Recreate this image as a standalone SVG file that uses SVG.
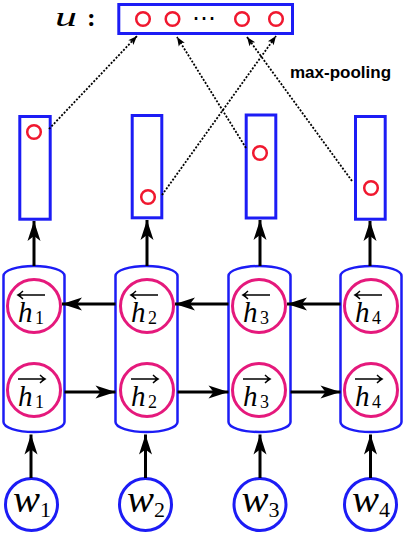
<svg xmlns="http://www.w3.org/2000/svg" width="404" height="534" viewBox="0 0 404 534">
<style>
.box{fill:#fff;stroke:#1c1cf5;stroke-width:3}
.cyl{fill:#fff;stroke:#1c1cf5;stroke-width:2.5}
.hc{fill:none;stroke:#e5197c;stroke-width:3}
.wc{fill:#fff;stroke:#1c1cf5;stroke-width:3}
.rc{fill:none;stroke:#f0182f;stroke-width:2.5}
.sol{stroke:#000;stroke-width:3;fill:none;marker-end:url(#ah)}
.dot{stroke:#000;stroke-width:1.8;stroke-dasharray:2 1.6;fill:none;marker-end:url(#dh)}
.acc{stroke:#000;stroke-width:1.4;fill:none}
.m{font-family:"Liberation Serif",serif;font-style:italic;fill:#000}
.s{font-family:"Liberation Serif",serif;fill:#000}
.wt{font-size:37px}
.ws{font-size:22px}
</style>
<defs>
<marker id="ah" markerUnits="userSpaceOnUse" markerWidth="24" markerHeight="16" viewBox="-21 -8 22 16" refX="0" refY="0" orient="auto">
<path d="M0,0 L-20,-6.5 L-15,0 L-20,6.5 Z" fill="#000"/>
</marker>
<marker id="dh" markerUnits="userSpaceOnUse" markerWidth="12" markerHeight="10" viewBox="-10 -5 11 10" refX="0" refY="0" orient="auto">
<path d="M0,0 L-9,-3.5 L-7,0 L-9,3.5 Z" fill="#000"/>
</marker>
</defs>

<g id="u-label">
<text class="m" x="55" y="25.5" font-size="28" textLength="22" lengthAdjust="spacingAndGlyphs">u</text>
<text class="s" x="87" y="25.5" font-size="26" font-weight="bold">:</text>
</g>
<g id="u">
<rect class="box" x="118.8" y="4.5" width="173.7" height="29"/>
<circle class="rc" cx="143" cy="19" r="6.8"/>
<circle class="rc" cx="172.5" cy="19" r="6.8"/>
<text x="204" y="26" font-family="DejaVu Sans,sans-serif" font-size="24" text-anchor="middle">⋯</text>
<circle class="rc" cx="242" cy="19" r="6.8"/>
<circle class="rc" cx="276" cy="19" r="6.8"/>
</g>
<g id="maxpool-label">
<text x="290" y="78" font-family="Liberation Sans,sans-serif" font-weight="bold" font-size="17">max-pooling</text>
</g>

<g id="p1"><rect class="box" x="19.8" y="116.5" width="30.4" height="102.7"/><circle class="rc" cx="34" cy="132" r="6.8"/></g>
<g id="p2"><rect class="box" x="132.2" y="115.5" width="29.6" height="102.3"/><circle class="rc" cx="148" cy="197" r="6.8"/></g>
<g id="p3"><rect class="box" x="246.2" y="115" width="29.6" height="103"/><circle class="rc" cx="260" cy="153" r="6.8"/></g>
<g id="p4"><rect class="box" x="355.5" y="116.5" width="29.7" height="102.7"/><circle class="rc" cx="371" cy="188" r="6.8"/></g>

<g id="c1">
<path class="cyl" d="M3.5,276 A30.5,10 0 0 1 64.5,276 L64.5,422 A30.5,10 0 0 1 3.5,422 Z"/>
</g>
<g id="c2">
<path class="cyl" d="M115.5,276 A31,10 0 0 1 177.5,276 L177.5,422 A31,10 0 0 1 115.5,422 Z"/>
</g>
<g id="c3">
<path class="cyl" d="M228.5,276 A31,10 0 0 1 290.5,276 L290.5,422 A31,10 0 0 1 228.5,422 Z"/>
</g>
<g id="c4">
<path class="cyl" d="M340.5,276 A30.5,10 0 0 1 401.5,276 L401.5,422 A30.5,10 0 0 1 340.5,422 Z"/>
</g>

<g id="hb1"><circle class="hc" cx="34" cy="306" r="26.5"/>
<path class="acc" d="M18,295 L45,295 M23,291 Q20,294 18,295 Q20,296 23,299"/>
<text class="m" x="18" y="322" font-size="29">h</text><text class="s" x="35" y="324" font-size="18">1</text></g>
<g id="hb2"><circle class="hc" cx="147" cy="306" r="26.5"/>
<path class="acc" d="M131,295 L158,295 M136,291 Q133,294 131,295 Q133,296 136,299"/>
<text class="m" x="131" y="322" font-size="29">h</text><text class="s" x="148" y="324" font-size="18">2</text></g>
<g id="hb3"><circle class="hc" cx="259" cy="306" r="26.5"/>
<path class="acc" d="M243,295 L270,295 M248,291 Q245,294 243,295 Q245,296 248,299"/>
<text class="m" x="243" y="322" font-size="29">h</text><text class="s" x="260" y="324" font-size="18">3</text></g>
<g id="hb4"><circle class="hc" cx="371" cy="306" r="26.5"/>
<path class="acc" d="M355,295 L382,295 M360,291 Q357,294 355,295 Q357,296 360,299"/>
<text class="m" x="355" y="322" font-size="29">h</text><text class="s" x="372" y="324" font-size="18">4</text></g>

<g id="hf1"><circle class="hc" cx="34" cy="390" r="26.5"/>
<path class="acc" d="M18,379 L45,379 M40,375 Q43,378 45,379 Q43,380 40,383"/>
<text class="m" x="18" y="406" font-size="29">h</text><text class="s" x="35" y="408" font-size="18">1</text></g>
<g id="hf2"><circle class="hc" cx="147" cy="390" r="26.5"/>
<path class="acc" d="M131,379 L158,379 M153,375 Q156,378 158,379 Q156,380 153,383"/>
<text class="m" x="131" y="406" font-size="29">h</text><text class="s" x="148" y="408" font-size="18">2</text></g>
<g id="hf3"><circle class="hc" cx="259" cy="390" r="26.5"/>
<path class="acc" d="M243,379 L270,379 M265,375 Q268,378 270,379 Q268,380 265,383"/>
<text class="m" x="243" y="406" font-size="29">h</text><text class="s" x="260" y="408" font-size="18">3</text></g>
<g id="hf4"><circle class="hc" cx="371" cy="390" r="26.5"/>
<path class="acc" d="M355,379 L382,379 M377,375 Q380,378 382,379 Q380,380 377,383"/>
<text class="m" x="355" y="406" font-size="29">h</text><text class="s" x="372" y="408" font-size="18">4</text></g>

<g id="w1"><circle class="wc" cx="31.5" cy="504.5" r="26"/><text class="m wt" x="13" y="512" textLength="27" lengthAdjust="spacingAndGlyphs">w</text><text class="s ws" x="40" y="517">1</text></g>
<g id="w2"><circle class="wc" cx="145.5" cy="504.5" r="26"/><text class="m wt" x="127" y="512" textLength="27" lengthAdjust="spacingAndGlyphs">w</text><text class="s ws" x="154" y="517">2</text></g>
<g id="w3"><circle class="wc" cx="260" cy="504.5" r="26"/><text class="m wt" x="241.5" y="512" textLength="27" lengthAdjust="spacingAndGlyphs">w</text><text class="s ws" x="268.5" y="517">3</text></g>
<g id="w4"><circle class="wc" cx="370.5" cy="504.5" r="26"/><text class="m wt" x="352" y="512" textLength="27" lengthAdjust="spacingAndGlyphs">w</text><text class="s ws" x="379" y="517">4</text></g>

<g id="connectors">
<path class="sol" d="M31,478 L31,434.5"/>
<path class="sol" d="M145.5,478 L145.5,434.5"/>
<path class="sol" d="M260,478 L260,434.5"/>
<path class="sol" d="M370.5,478 L370.5,434.5"/>
<path class="sol" d="M34,266 L34,221"/>
<path class="sol" d="M147,266 L147,220"/>
<path class="sol" d="M260,266 L260,220"/>
<path class="sol" d="M370,266 L370,221"/>
<path class="sol" d="M115.5,304 L62,304"/>
<path class="sol" d="M228.5,304 L175,304"/>
<path class="sol" d="M340.5,304 L287,304"/>
<path class="sol" d="M64.5,392 L115.5,392"/>
<path class="sol" d="M177.5,392 L228.5,392"/>
<path class="sol" d="M290.5,392 L340.5,392"/>
<path class="dot" d="M49,129 L137,36"/>
<path class="dot" d="M162,195 L276,36"/>
<path class="dot" d="M246,148 L177,37"/>
<path class="dot" d="M352,181 L247,37"/>
</g>
</svg>
